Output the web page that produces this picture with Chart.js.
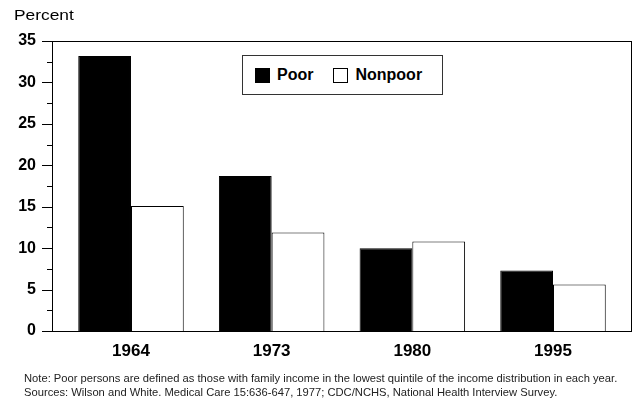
<!DOCTYPE html>
<html>
<head>
<meta charset="utf-8">
<script src="https://cdn.jsdelivr.net/npm/chart.js@4"></script>
<style>
  body { margin: 0; background: #fff; font-family: "Liberation Sans", Arial, sans-serif; }
  #wrap { position: relative; width: 635px; height: 404px; }
  #ylabel { position: absolute; left: 14px; top: 6px; font-size: 15.5px; color: #000;
            transform: scaleX(1.12); transform-origin: left top; }
  #legend { position: absolute; left: 242px; top: 55px; width: 199px; height: 38px;
            border: 1px solid #333; background: #fff; display: flex; align-items: center;
            font-size: 16px; font-weight: bold; }
  .item { display: flex; align-items: center; margin-left: 12px; margin-right: 8px; }
  .item + .item { margin-left: 12px; }
  .sw { width: 13px; height: 13px; border: 1px solid #000; margin-right: 7px; }
  #notes { position: absolute; left: 24px; top: 371px; font-size: 11.2px; line-height: 14px; color: #222; white-space: nowrap; }
</style>
</head>
<body>
<div id="wrap">
  <canvas id="myChart" width="635" height="404"></canvas>
  <div id="ylabel">Percent</div>
  <div id="legend"></div>
  <div id="notes">
    Note: Poor persons are defined as those with family income in the lowest quintile of the income distribution in each year.<br>
    Sources: Wilson and White. Medical Care 15:636-647, 1977; CDC/NCHS, National Health Interview Survey.
  </div>
</div>
<script>
// chart data
var years = ["1964", "1973", "1980", "1995"];
var seriesNames = ["Poor", "Nonpoor"];
var poor = [33.2, 18.7, 10.0, 7.3];
var nonpoor = [15.1, 11.9, 10.8, 5.6];
var yTicks = [0, 5, 10, 15, 20, 25, 30, 35];

function toPoints(vals) {
    return vals.map(function (v, i) { return { x: i + 1, y: v }; });
}

// frame around the plot plus the major/minor tick marks on the left
var framePlugin = {
    id: "frame",
    afterDraw: function (chart) {
        var ctx = chart.ctx;
        var a = chart.chartArea;
        var y = chart.scales.y;
        ctx.save();
        ctx.strokeStyle = "#000";
        ctx.lineWidth = 1;
        ctx.strokeRect(a.left + 0.5, a.top + 0.5, a.right - a.left - 1, a.bottom - a.top);
        for (var v = 0; v <= 35; v += 2.5) {
            var py = Math.round(y.getPixelForValue(v)) + 0.5;
            var len = (v % 5 == 0) ? 10 : 5;
            ctx.beginPath();
            ctx.moveTo(a.left - len, py);
            ctx.lineTo(a.left, py);
            ctx.stroke();
        }
        ctx.restore();
    }
};

var chart = new Chart("myChart", {
    type: "bar",
    data: {
        datasets: [{
            label: seriesNames[0],
            data: toPoints(poor),
            backgroundColor: "#000",
            borderColor: "#000",
            borderWidth: 1,
            categoryPercentage: 0.75,
            barPercentage: 1
        }, {
            label: seriesNames[1],
            data: toPoints(nonpoor),
            backgroundColor: "#fff",
            borderColor: "#000",
            borderWidth: 1,
            categoryPercentage: 0.75,
            barPercentage: 1
        }]
    },
    options: {
        responsive: false,
        animation: false,
        layout: { padding: { left: 0, top: 41, right: 3, bottom: 43 } },
        plugins: { legend: { display: false }, tooltip: { enabled: false } },
        scales: {
            x: {
                type: "linear",
                bounds: "data",
                offset: false,
                min: 0.4384,
                max: 4.5616,
                afterBuildTicks: function (s) {
                    s.ticks = years.map(function (y, i) { return { value: i + 1 }; });
                },
                afterFit: function (s) { s.height = 30; },
                grid: { display: false, drawTicks: false },
                border: { display: false },
                ticks: {
                    padding: 10,
                    color: "#000",
                    font: { family: "Liberation Sans", size: 17, weight: "bold" },
                    callback: function (v) { return years[v - 1]; }
                }
            },
            y: {
                min: 0,
                max: 35,
                afterBuildTicks: function (s) {
                    s.ticks = yTicks.map(function (v) { return { value: v }; });
                },
                afterFit: function (s) { s.width = 52; },
                grid: { display: false, drawTicks: false },
                border: { display: false },
                ticks: {
                    padding: 16,
                    color: "#000",
                    font: { family: "Liberation Sans", size: 16, weight: "bold" }
                }
            }
        }
    },
    plugins: [framePlugin]
});

// legend box
var legend = document.getElementById("legend");
chart.data.datasets.forEach(function (ds) {
    var item = document.createElement("div");
    item.className = "item";
    item.innerHTML = '<span class="sw" style="background:' + ds.backgroundColor + '"></span>' + ds.label;
    legend.appendChild(item);
});
</script>
</body>
</html>
